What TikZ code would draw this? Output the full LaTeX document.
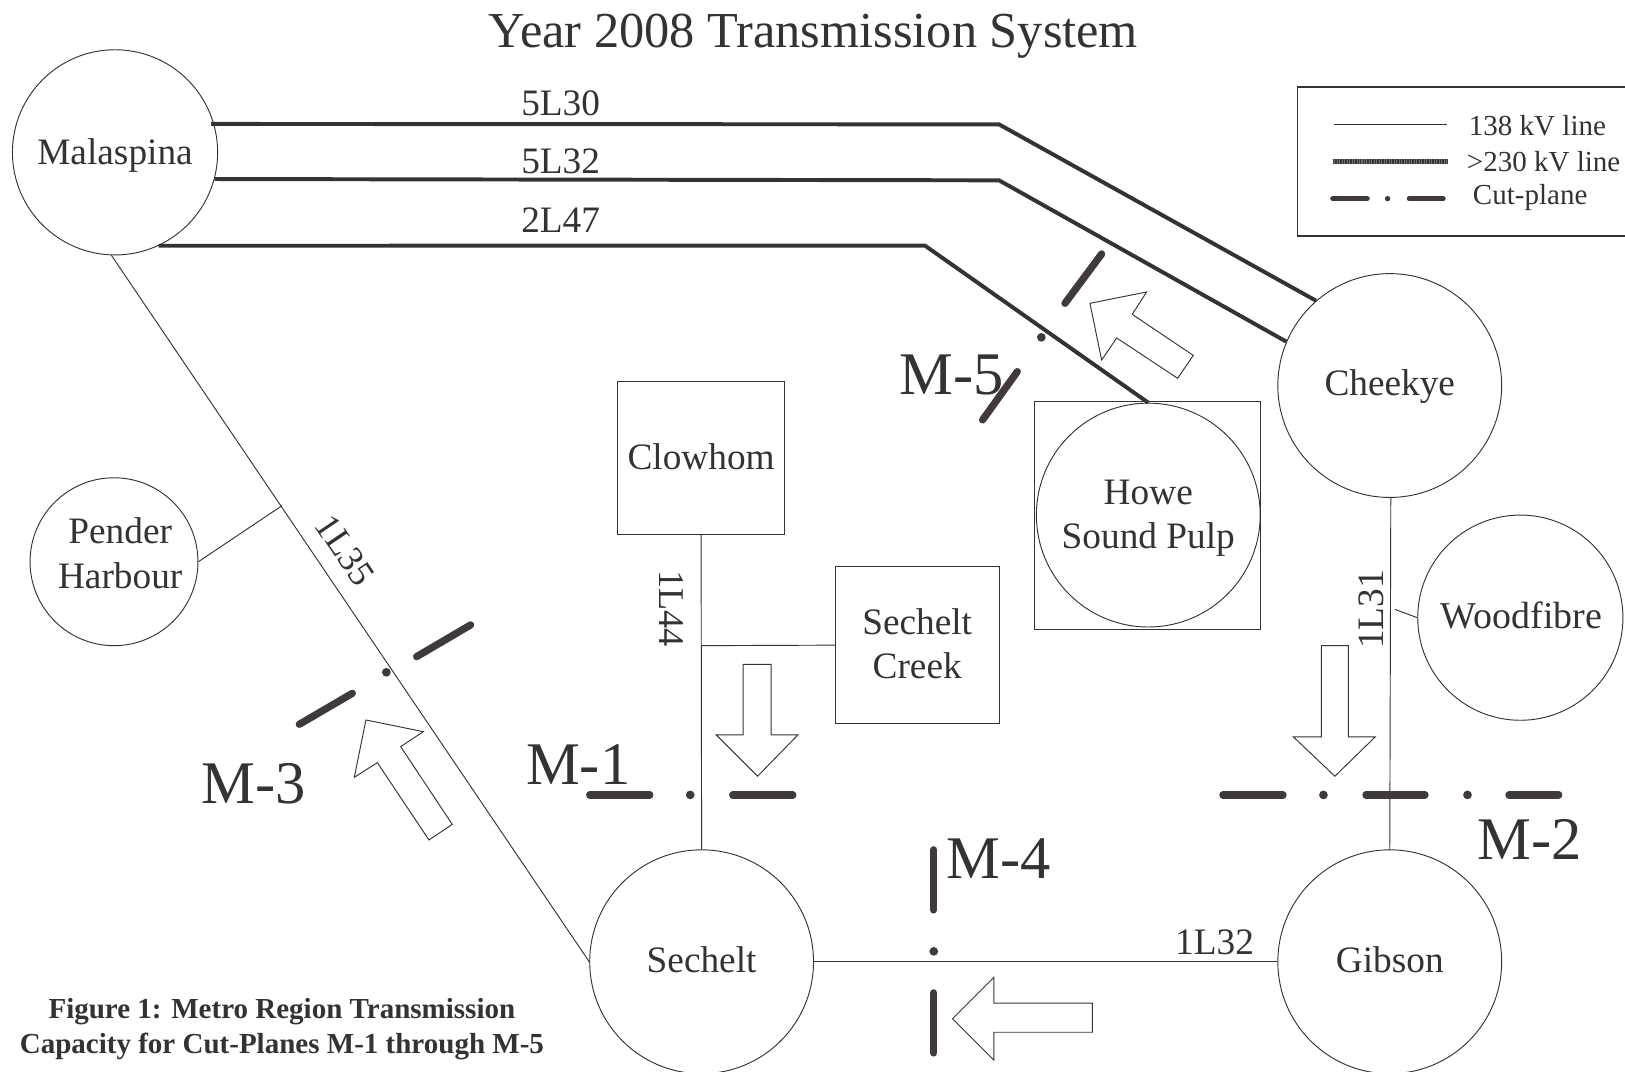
\documentclass[tikz,border=0pt]{standalone}
\usepackage{fontspec}
\setmainfont{Liberation Serif}
\definecolor{ink}{HTML}{333333}
\definecolor{cutc}{HTML}{403A3B}
\tikzset{
  station/.style={circle,draw=ink,line width=0.45pt,inner sep=0pt,align=center,font=\fontsize{18}{21.5}\selectfont,text=ink},
  plant/.style={rectangle,draw=ink,line width=0.45pt,inner sep=0pt,align=center,font=\fontsize{18}{21.5}\selectfont,text=ink},
  nametext/.style={inner sep=0pt,align=center,font=\fontsize{18}{21.5}\selectfont,text=ink},
  thinline/.style={draw=ink,line width=0.45pt},
  hvline/.style={draw=ink,line width=1.9pt},
  cutline/.style={draw=cutc,line width=3.5pt,line cap=round},
  cutdot/.style={circle,fill=cutc,inner sep=0pt,minimum size=4.2pt},
  flow/.style={draw=ink,line width=0.45pt,fill=white},
  linelabel/.style={inner sep=0pt,font=\fontsize{18}{21.5}\selectfont,text=ink},
  cutlabel/.style={inner sep=0pt,font=\fontsize{29.2}{30}\selectfont,text=ink},
  legendlabel/.style={inner sep=0pt,font=\fontsize{14}{17}\selectfont,text=ink},
  captionlabel/.style={inner sep=0pt,font=\fontsize{14}{16}\selectfont\bfseries,text=ink}
}
\begin{document}
\begin{tikzpicture}[x=0.5pt,y=-0.5pt]
\useasboundingbox (0,0) rectangle (1568,1034);
\fill[white] (0,0) rectangle (1568,1034);
\node[inner sep=0pt,font=\fontsize{24.3}{28}\selectfont,text=ink] (title) at (785,35) {Year 2008 Transmission System};
% stations
\node[station,minimum size=99pt] (mal) at (111,147) {};
\node[nametext] (maltext) at (111,150) {Malaspina};
\node[station,minimum size=108pt] (che) at (1341,372) {};
\node[nametext] (chetext) at (1341,373) {Cheekye};
\node[station,minimum size=81pt] (pen) at (110,542) {};
\node[nametext] (pentext) at (116,534) {Pender\\Harbour};
\node[station,minimum size=99pt] (woo) at (1467,596) {};
\node[nametext,font=\fontsize{18.3}{21.5}\selectfont] (wootext) at (1468,594) {Woodfibre};
\node[station,minimum size=108pt] (sec) at (677,928) {};
\node[nametext] (sectext) at (677,926) {Sechelt};
\node[station,minimum size=108pt] (gib) at (1341,928) {};
\node[nametext] (gibtext) at (1341,926) {Gibson};
\node[plant,minimum width=109pt,minimum height=110pt] (hsq) at (1107,497) {};
\node[station,minimum size=108pt] (how) at (1108,497) {};
\node[nametext] (howtext) at (1108,500) {Howe\\Sound Pulp};
\node[plant,minimum width=80.5pt,minimum height=73.5pt] (clo) at (676.5,442) {};
\node[nametext] (clotext) at (676.5,441) {Clowhom};
\node[plant,minimum width=79pt,minimum height=75.5pt] (cre) at (885,622.5) {};
\node[nametext] (cretext) at (885,621) {Sechelt\\Creek};
% junctions
\coordinate (j530) at (964,120);
\coordinate (j532) at (964,174);
\coordinate (j247) at (892.5,237);
\coordinate (jpen) at (272,488);
\coordinate (jcre) at (677,623);
\coordinate (jwoo) at (1346,588);
% lines
\draw[hvline,shorten <=-1.5pt] (mal.16.5) -- (j530) -- (che.131);
\draw[hvline] (mal.-15.5) -- (j532) -- (che.157);
\draw[hvline] (mal.-65.5) -- (j247) -- (how.north);
\draw[thinline] (mal.-92) -- (sec.west);
\draw[thinline] (pen.east) -- (jpen);
\draw[thinline] (clo.south) -- (sec.north);
\draw[thinline] (jcre) -- (cre.west);
\draw[thinline] (che.south) ++(1,0) -- (gib.north -| che.south);
\draw[thinline] (jwoo) -- (woo.west);
\draw[thinline] (sec.east) -- (gib.west);
% line labels
\node[linelabel] (l530) at (541,100) {5L30};
\node[linelabel] (l532) at (541,156) {5L32};
\node[linelabel] (l247) at (541,212) {2L47};
\node[linelabel,rotate=-56,font=\fontsize{17.5}{21}\selectfont] (l135) at (333,531) {1L35};
\node[linelabel,rotate=-90,font=\fontsize{17.5}{21}\selectfont] (l144) at (648,587) {1L44};
\node[linelabel,rotate=90] (l131) at (1323,588) {1L31};
\node[linelabel] (l132) at (1172,909) {1L32};
% flow arrows
\draw[flow] (717,641) -- (744,641) -- (744,709) -- (770,709) -- (731,749) -- (691,709) -- (717,709) -- cycle;
\draw[flow] (1275,623) -- (1301,623) -- (1301,711) -- (1327,711) -- (1288,749) -- (1248,711) -- (1275,711) -- cycle;
\draw[flow] (919,983) -- (959,943) -- (959,968) -- (1054,968) -- (1054,996) -- (959,996) -- (959,1023) -- cycle;
\draw[flow] (353.1,694.7) -- (408.5,706) -- (386.6,720.4) -- (436.4,795.4) -- (413.9,810.5) -- (364.1,735.9) -- (341.9,750) -- cycle;
\draw[flow] (1051.7,292.7) -- (1106.4,281.7) -- (1092.5,303.3) -- (1151.4,342.9) -- (1136.3,365) -- (1077.5,326.1) -- (1063,347.4) -- cycle;
% cut labels
\node[cutlabel] (m1) at (558,738) {M-1};
\node[cutlabel] (m2) at (1476,810) {M-2};
\node[cutlabel] (m3) at (245,756) {M-3};
\node[cutlabel] (m4) at (964,828) {M-4};
\node[cutlabel] (m5) at (918,362) {M-5};
% cut planes
\draw[cutline] (569,767) -- (627,767);
\node[cutdot] (d1) at (666,767) {};
\draw[cutline] (707,767) -- (765,767);
\draw[cutline] (1180,767) -- (1238,767);
\node[cutdot] (d2a) at (1277,767) {};
\draw[cutline] (1318,767) -- (1375,767);
\node[cutdot] (d2b) at (1416,767) {};
\draw[cutline] (1456,767) -- (1504,767);
\draw[cutline] (402,633.6) -- (454.1,603);
\node[cutdot] (d3) at (372.8,648.7) {};
\draw[cutline] (288.8,698.9) -- (340,669);
\draw[cutline] (901,820) -- (901,878);
\node[cutdot] (d4) at (901,918) {};
\draw[cutline] (901,958) -- (901,1016);
\draw[cutline] (1027.6,292.7) -- (1063,245);
\node[cutdot] (d5) at (1004.8,325.5) {};
\draw[cutline] (948.1,405.2) -- (981.6,358.6);
% legend
\draw[thinline,line width=0.6pt] (1568,84) -- (1251.8,84) -- (1251.8,227.6) -- (1568,227.6);
\draw[thinline,line width=0.5pt] (1287,119.8) -- (1395.9,119.8);
\draw[draw=ink!70,line width=2.5pt] (1285.9,155.6) -- (1397.5,155.6);
\draw[draw=ink,line width=2.5pt,dash pattern=on 0.7pt off 0.5pt] (1285.9,155.6) -- (1397.5,155.6);
\draw[cutline,line width=2.4pt] (1285.9,191.7) -- (1319.3,191.7);
\node[cutdot,minimum size=2.6pt] (dl) at (1338.9,191.7) {};
\draw[cutline,line width=2.4pt] (1359.8,191.7) -- (1392.6,191.7);
\node[legendlabel] (lg1) at (1483.5,121.5) {138 kV line};
\node[legendlabel] (lg2) at (1489.5,156) {>230 kV line};
\node[legendlabel] (lg3) at (1476.5,191) {Cut-plane};
% caption
\node[captionlabel] (c1) at (272,976.5) {Figure 1: Metro Region Transmission};
\node[captionlabel] (c2) at (272,1009.5) {Capacity for Cut-Planes M-1 through M-5};
\end{tikzpicture}
\end{document}
